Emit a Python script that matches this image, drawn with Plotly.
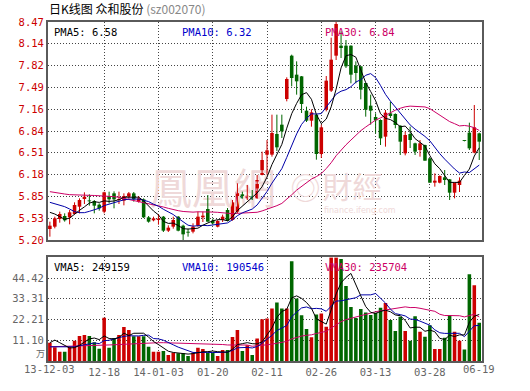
import plotly.graph_objects as go

# ---------------- data ----------------
TICK_IDX = [0, 11, 22, 33, 44, 55, 66, 77, 87]
TICK_LABELS = ['13-12-03', '12-18', '14-01-03', '01-20', '02-11', '02-26', '03-13', '03-28', '06-19']

OPEN = [5.365, 5.40, 5.515, 5.56, 5.54, 5.59, 5.70, 5.815, 5.79, 5.785,
        5.73, 5.625, 5.86, 5.90, 5.80, 5.79, 5.85, 5.90, 5.775, 5.81,
        5.54, 5.495, 5.50, 5.55, 5.34, 5.40, 5.55, 5.415, 5.32, 5.325,
        5.415, 5.54, 5.665, 5.49, 5.40, 5.50, 5.65, 5.50, 5.625, 5.885,
        5.825, 5.86, 5.825, 6.175, 6.48, 6.48, 6.79, 6.93, 7.315, 7.965,
        7.68, 7.655, 7.14, 6.99, 7.08, 6.49, 7.155, 7.44, 7.965, 8.115,
        8.115, 8.115, 7.815, 7.805, 7.555, 7.215, 7.045, 7.00, 6.75, 7.10,
        7.09, 6.915, 6.50, 6.79, 6.65, 6.55, 6.625, 6.425, 6.06, 6.06,
        6.14, 6.11, 5.91, 6.025, 6.69, 6.81, 6.51, 6.80]
HIGH = [5.475, 5.55, 5.625, 5.60, 5.65, 5.765, 5.825, 5.915, 5.885, 5.80,
        5.75, 5.925, 5.925, 5.93, 5.925, 5.90, 5.92, 5.92, 5.86, 5.825,
        5.56, 5.55, 5.59, 5.56, 5.42, 5.55, 5.56, 5.43, 5.37, 5.45,
        5.625, 5.625, 5.875, 5.52, 5.50, 5.58, 5.68, 5.80, 6.05, 5.925,
        6.025, 5.95, 6.175, 6.525, 6.70, 7.08, 7.08, 7.08, 7.64, 7.98,
        7.88, 7.66, 7.20, 7.16, 7.09, 6.93, 7.66, 8.235, 8.47, 8.33,
        8.20, 8.12, 7.88, 7.81, 7.56, 7.38, 7.10, 7.01, 7.15, 7.275,
        7.10, 6.92, 6.825, 6.90, 6.66, 6.70, 6.63, 6.43, 6.20, 6.17,
        6.25, 6.115, 6.06, 6.14, 6.69, 6.96, 7.225, 6.81]
LOW = [5.25, 5.375, 5.46, 5.475, 5.435, 5.585, 5.60, 5.74, 5.715, 5.60,
       5.64, 5.60, 5.75, 5.675, 5.74, 5.72, 5.82, 5.775, 5.76, 5.53,
       5.46, 5.48, 5.43, 5.32, 5.32, 5.37, 5.33, 5.20, 5.25, 5.30,
       5.40, 5.47, 5.475, 5.43, 5.39, 5.47, 5.48, 5.49, 5.60, 5.82,
       5.80, 5.80, 5.82, 6.17, 6.18, 6.45, 6.535, 6.73, 7.28, 7.505,
       7.38, 7.105, 6.97, 6.90, 6.405, 6.43, 7.13, 7.42, 7.90, 7.93,
       7.78, 7.55, 7.55, 7.31, 7.05, 6.93, 6.80, 6.625, 6.60, 7.03,
       6.875, 6.475, 6.47, 6.58, 6.475, 6.45, 6.39, 6.06, 6.00, 6.05,
       6.025, 5.80, 5.825, 5.92, 6.68, 6.55, 6.50, 6.40]
CLOSE = [5.415, 5.525, 5.59, 5.495, 5.615, 5.725, 5.80, 5.85, 5.78, 5.715,
         5.675, 5.915, 5.81, 5.81, 5.815, 5.86, 5.90, 5.81, 5.825, 5.54,
         5.475, 5.525, 5.52, 5.34, 5.385, 5.50, 5.34, 5.285, 5.31, 5.40,
         5.55, 5.565, 5.475, 5.45, 5.485, 5.55, 5.485, 5.765, 5.925, 5.825,
         5.865, 5.81, 6.10, 6.40, 6.545, 6.805, 6.59, 6.83, 7.615, 7.63,
         7.58, 7.24, 6.99, 7.115, 6.49, 6.89, 7.59, 7.905, 8.44, 8.08,
         7.805, 7.68, 7.705, 7.455, 7.155, 7.14, 6.995, 6.725, 7.11, 7.06,
         6.925, 6.675, 6.775, 6.70, 6.525, 6.65, 6.39, 6.06, 6.09, 6.16,
         6.10, 5.91, 6.06, 6.09, 6.685, 6.575, 6.89, 6.675]
VOLUME = [9.8, 7.4, 5.0, 5.0, 7.6, 10.8, 13.4, 13.9, 13.4, 10.0,
          6.6, 23.1, 7.1, 12.3, 13.9, 18.2, 16.6, 13.2, 13.2, 13.2,
          7.6, 5.0, 5.0, 5.3, 3.2, 4.4, 4.1, 4.1, 2.7, 4.4,
          7.1, 6.4, 4.4, 4.4, 2.7, 5.9, 5.9, 12.8, 16.6, 5.3,
          8.5, 3.2, 12.1, 22.3, 22.8, 28.1, 31.3, 28.1, 28.1, 53.4,
          33.5, 24.5, 17.2, 12.7, 24.9, 25.5, 18.4, 55.4, 55.4, 54.6,
          40.1, 28.9, 23.0, 27.8, 26.0, 24.6, 25.8, 28.5, 31.1, 21.9,
          16.0, 23.7, 16.0, 10.9, 24.0, 15.7, 13.0, 19.2, 6.4, 6.4,
          12.5, 24.5, 15.7, 10.9, 6.2, 46.5, 40.5, 20.5]

PMA5 = [5.615, 5.59, 5.55, 5.51, 5.528, 5.59, 5.645, 5.697, 5.754, 5.774,
        5.764, 5.787, 5.779, 5.785, 5.805, 5.842, 5.839, 5.839, 5.842, 5.787,
        5.71, 5.635, 5.577, 5.48, 5.449, 5.454, 5.417, 5.37, 5.364, 5.367,
        5.377, 5.422, 5.46, 5.488, 5.505, 5.505, 5.489, 5.547, 5.642, 5.71,
        5.773, 5.838, 5.905, 6.00, 6.144, 6.332, 6.488, 6.634, 6.877, 7.094,
        7.249, 7.379, 7.411, 7.311, 7.083, 6.945, 7.015, 7.198, 7.463, 7.781,
        7.964, 7.982, 7.942, 7.745, 7.56, 7.427, 7.29, 7.094, 7.025, 7.006,
        6.963, 6.899, 6.909, 6.827, 6.72, 6.665, 6.608, 6.465, 6.343, 6.27,
        6.16, 6.064, 6.064, 6.064, 6.169, 6.264, 6.46, 6.583]
PMA10 = [5.765, 5.745, 5.72, 5.70, 5.665, 5.625, 5.61, 5.61, 5.63, 5.651,
         5.677, 5.716, 5.738, 5.770, 5.790, 5.803, 5.813, 5.809, 5.814, 5.796,
         5.776, 5.737, 5.708, 5.661, 5.618, 5.582, 5.526, 5.474, 5.422, 5.408,
         5.416, 5.420, 5.415, 5.426, 5.436, 5.441, 5.456, 5.504, 5.565, 5.608,
         5.639, 5.664, 5.726, 5.821, 5.927, 6.053, 6.163, 6.270, 6.439, 6.619,
         6.791, 6.934, 7.023, 7.094, 7.089, 7.097, 7.197, 7.305, 7.387, 7.432,
         7.455, 7.499, 7.570, 7.604, 7.671, 7.696, 7.636, 7.518, 7.385, 7.283,
         7.195, 7.095, 7.002, 6.926, 6.863, 6.814, 6.754, 6.687, 6.585, 6.495,
         6.413, 6.336, 6.265, 6.204, 6.220, 6.212, 6.262, 6.324]
PMA30 = [5.925, 5.91, 5.90, 5.89, 5.88, 5.875, 5.875, 5.872, 5.87, 5.868,
         5.866, 5.865, 5.86, 5.85, 5.84, 5.825, 5.81, 5.795, 5.78, 5.765,
         5.75, 5.735, 5.715, 5.695, 5.675, 5.655, 5.64, 5.628, 5.62, 5.618,
         5.623, 5.624, 5.620, 5.619, 5.615, 5.609, 5.598, 5.595, 5.600, 5.604,
         5.610, 5.607, 5.616, 5.636, 5.660, 5.692, 5.715, 5.749, 5.809, 5.878,
         5.948, 6.006, 6.055, 6.114, 6.151, 6.197, 6.272, 6.359, 6.464, 6.553,
         6.628, 6.699, 6.773, 6.840, 6.895, 6.948, 6.999, 7.031, 7.070, 7.111,
         7.147, 7.176, 7.198, 7.208, 7.207, 7.202, 7.196, 7.170, 7.119, 7.07,
         7.021, 6.976, 6.945, 6.911, 6.918, 6.907, 6.884, 6.843]

VMA5 = [9.8, 11.2, 9.8, 8.6, 6.96, 7.16, 8.36, 10.14, 11.82, 12.3,
        11.46, 13.4, 12.04, 11.82, 12.6, 14.92, 13.62, 14.84, 15.02, 14.88,
        12.76, 10.44, 8.8, 7.22, 5.22, 4.58, 4.4, 4.22, 3.7, 3.94,
        4.48, 4.94, 5.0, 5.34, 5.0, 4.76, 4.66, 6.34, 8.78, 9.3,
        9.82, 9.28, 9.14, 10.28, 13.78, 17.7, 23.32, 26.52, 27.68, 33.8,
        34.88, 33.52, 31.34, 28.26, 22.56, 20.96, 19.74, 27.38, 35.92, 41.86,
        44.78, 46.88, 40.4, 34.88, 29.16, 26.06, 25.44, 26.54, 27.2, 26.38,
        24.66, 24.24, 21.74, 17.7, 18.12, 18.06, 15.92, 16.56, 15.66, 12.14,
        11.5, 13.8, 13.1, 14.0, 13.96, 20.76, 23.96, 24.92]
VMA10 = [7.6, 7.6, 7.6, 7.6, 7.6, 7.6, 8.2, 8.8, 9.4, 9.63,
         9.31, 10.88, 11.09, 11.82, 12.45, 13.19, 13.51, 13.44, 13.42, 13.74,
         13.84, 12.03, 11.82, 11.12, 10.05, 8.67, 7.42, 6.51, 5.46, 4.58,
         4.53, 4.67, 4.61, 4.52, 4.47, 4.62, 4.8, 5.67, 7.06, 7.15,
         7.29, 6.97, 7.74, 9.53, 11.54, 13.76, 16.3, 17.83, 18.98, 23.79,
         26.29, 28.42, 28.93, 27.97, 28.18, 27.92, 26.63, 29.36, 32.09, 32.21,
         32.87, 33.31, 33.89, 35.4, 35.51, 35.42, 36.16, 33.47, 31.04, 27.77,
         25.36, 24.84, 24.14, 22.45, 22.25, 21.36, 20.08, 19.15, 16.68, 15.13,
         14.78, 14.86, 14.83, 14.83, 13.05, 16.13, 18.88, 19.05]
VMA30 = [7.6, 7.65, 7.7, 7.75, 7.8, 7.9, 8.0, 8.1, 8.2, 8.3,
         8.4, 8.5, 8.6, 8.7, 8.85, 9.0, 9.1, 9.3, 9.5, 9.7,
         9.8, 9.8, 9.8, 9.8, 9.75, 9.7, 9.6, 9.5, 9.4, 9.32,
         9.23, 9.19, 9.17, 9.15, 8.99, 8.83, 8.58, 8.54, 8.65, 8.49,
         8.55, 7.89, 8.06, 8.39, 8.69, 9.02, 9.51, 10.0, 10.5, 11.84,
         12.7, 13.35, 13.76, 14.01, 14.73, 15.43, 15.91, 17.62, 19.38, 21.05,
         22.15, 22.9, 23.52, 24.3, 25.08, 25.7, 26.36, 26.89, 27.37, 27.92,
         28.17, 28.86, 28.99, 28.61, 28.65, 28.23, 27.62, 27.33, 26.6, 25.04,
         24.34, 24.34, 24.29, 24.23, 23.6, 24.3, 25.04, 23.57]

PRICE_TICKS = [5.20, 5.527, 5.854, 6.181, 6.508, 6.835, 7.162, 7.489, 7.816, 8.143, 8.47]
PRICE_TICK_TEXT = ['5.20', '5.53', '5.85', '6.18', '6.51', '6.84', '7.16', '7.49', '7.82', '8.14', '8.47']
VOL_TICKS = [11.105, 22.21, 33.315, 44.42]
VOL_TICK_TEXT = ['11.10', '22.21', '33.31', '44.42']

TITLE_MAIN = '日K线图 众和股份'
TITLE_CODE = '(sz002070)'
PMA_LABELS = ['PMA5: 6.58', 'PMA10: 6.32', 'PMA30: 6.84']
VMA_LABELS = ['VMA5: 249159', 'VMA10: 190546', 'VMA30: 235704']

# ---------------- style ----------------
RED = '#cc0000'
GREEN = '#006600'
BLUE = '#0000a8'
MAG = '#cc0066'
MONO = 'DejaVu Sans Mono'
CJK = 'Noto Sans CJK SC'
W, H = 530, 391
ML, MR, MT, MB = 43, 48, 22, 30
PW, PH = W - ML - MR, H - MT - MB


def xp(px):
    return (px - ML) / PW


def yp(py):
    return (H - MB - py) / PH


n = len(CLOSE)
idx = list(range(n))
colors = [RED if c >= o else GREEN for o, c in zip(OPEN, CLOSE)]

fig = go.Figure()

# watermark (behind everything)
fig.add_trace(go.Scatter(
    x=[33, 51.8, 61.3], y=[5.905, 5.93, 5.95], mode='text',
    text=['鳳凰網', '◎', '財經'],
    textfont=dict(family='Noto Sans CJK TC', size=[42, 30, 30], color='#efd9d9'),
    hoverinfo='skip', showlegend=False, xaxis='x', yaxis='y'))
fig.add_trace(go.Scatter(
    x=[62.8], y=[5.63], mode='text', text=['finance.ifeng.com'],
    textfont=dict(family='DejaVu Sans', size=8, color='#efd9d9'),
    hoverinfo='skip', showlegend=False, xaxis='x', yaxis='y'))

# wicks
for col in (RED, GREEN):
    xs, ys = [], []
    for i in idx:
        if colors[i] == col:
            xs += [i, i, None]
            ys += [LOW[i], HIGH[i], None]
    fig.add_trace(go.Scatter(x=xs, y=ys, mode='lines', line=dict(color=col, width=1),
                             hoverinfo='skip', showlegend=False, xaxis='x', yaxis='y'))

# bodies
body_base = [min(o, c) for o, c in zip(OPEN, CLOSE)]
body_h = [max(abs(c - o), 0.014) for o, c in zip(OPEN, CLOSE)]
fig.add_trace(go.Bar(x=idx, y=body_h, base=body_base, width=0.72,
                     marker=dict(color=colors, line=dict(width=0)),
                     hoverinfo='skip', showlegend=False, xaxis='x', yaxis='y'))

# price MAs
for series, col in ((PMA30, MAG), (PMA10, BLUE), (PMA5, '#000000')):
    fig.add_trace(go.Scatter(x=idx, y=series, mode='lines', line=dict(color=col, width=1),
                             hoverinfo='skip', showlegend=False, xaxis='x', yaxis='y'))

# volume
fig.add_trace(go.Bar(x=idx, y=VOLUME, width=0.72,
                     marker=dict(color=colors, line=dict(width=0)),
                     hoverinfo='skip', showlegend=False, xaxis='x2', yaxis='y2'))
for series, col in ((VMA30, MAG), (VMA10, BLUE), (VMA5, '#000000')):
    fig.add_trace(go.Scatter(x=idx, y=series, mode='lines', line=dict(color=col, width=1),
                             hoverinfo='skip', showlegend=False, xaxis='x2', yaxis='y2'))

grid = dict(showgrid=True, gridcolor='#444444', gridwidth=1, griddash='1px,2px')
frame = dict(showline=True, mirror=True, linecolor='#5a5a5a', linewidth=2, zeroline=False)
xr = [-0.38, 87.56]

fig.update_layout(
    width=W, height=H, margin=dict(l=ML, r=MR, t=MT, b=MB),
    paper_bgcolor='white', plot_bgcolor='white', barmode='overlay', showlegend=False,
    hovermode=False,
    xaxis=dict(domain=[0, 1], range=xr, anchor='y', tickvals=TICK_IDX[1:-1],
               showticklabels=False, ticks='', **grid, **frame),
    yaxis=dict(domain=[1 - 218 / PH, 1], range=[5.20, 8.47], tickvals=PRICE_TICKS,
               ticktext=PRICE_TICK_TEXT, ticks='', tickfont=dict(family=MONO, size=10.5, color=RED),
               **grid, **frame),
    xaxis2=dict(domain=[0, 1], range=xr, anchor='y2', tickvals=TICK_IDX[1:-1],
                ticktext=TICK_LABELS[1:-1], ticks='',
                tickfont=dict(family=MONO, size=10.5, color='#666666'), **grid, **frame),
    yaxis2=dict(domain=[0, 103.7 / PH], range=[0, 55.525], tickvals=VOL_TICKS,
                ticktext=VOL_TICK_TEXT, ticks='',
                tickfont=dict(family=MONO, size=10.5, color='#666666'), **grid, **frame),
)

ann = []
ann.append(dict(x=xp(42), y=yp(8), xref='paper', yref='paper', xanchor='left', yanchor='middle',
                showarrow=False,
                text=TITLE_MAIN + ' <span style="color:#888888">' + TITLE_CODE + '</span>',
                font=dict(family=CJK, size=12, color='#000000')))
for txt, px, col in zip(PMA_LABELS, (47, 177, 321), ('#000000', '#0000cc', MAG)):
    ann.append(dict(x=xp(px), y=yp(32), xref='paper', yref='paper', xanchor='left',
                    yanchor='middle', showarrow=False, text=txt,
                    font=dict(family=MONO, size=10.5, color=col)))
for txt, px, col in zip(VMA_LABELS, (47, 177, 321), ('#000000', '#0000cc', MAG)):
    ann.append(dict(x=xp(px), y=yp(267), xref='paper', yref='paper', xanchor='left',
                    yanchor='middle', showarrow=False, text=txt,
                    font=dict(family=MONO, size=10.5, color=col)))
for k in (0, -1):
    ann.append(dict(x=TICK_IDX[k], y=yp(369), xref='x2', yref='paper', xanchor='center',
                    yanchor='middle', showarrow=False, text=TICK_LABELS[k],
                    font=dict(family=MONO, size=10.5, color='#666666')))
ann.append(dict(x=xp(42), y=yp(353), xref='paper', yref='paper', xanchor='right',
                yanchor='middle', showarrow=False, text='万',
                font=dict(family=CJK, size=9, color='#666666')))
fig.update_layout(annotations=ann)

fig.write_html('out.html', config={'displayModeBar': False, 'staticPlot': True},
               post_script="document.body.style.margin='0px';")
